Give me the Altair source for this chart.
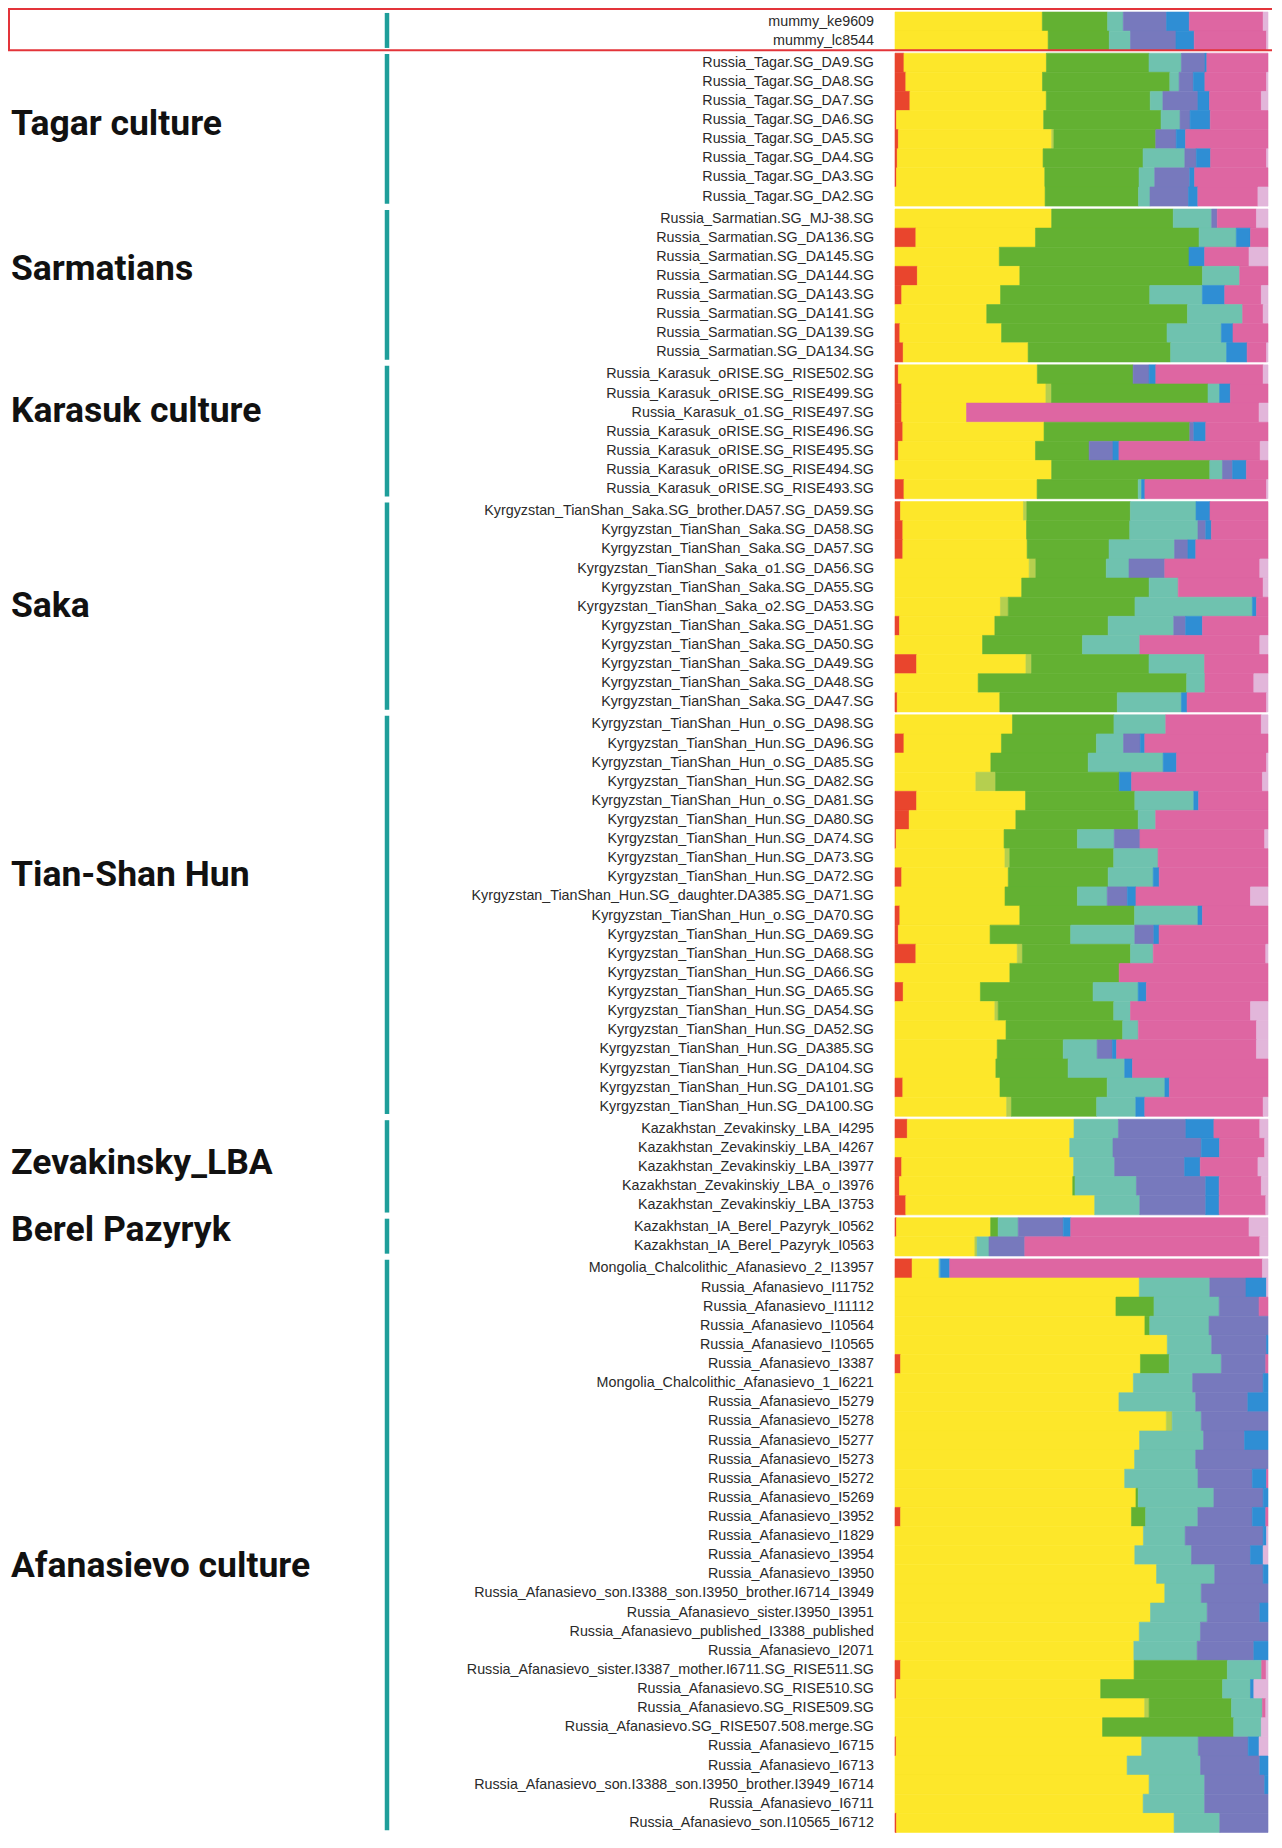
import altair as alt
import pandas as pd

# ---------------- data ----------------
COMPONENTS = ["K1", "K2", "K3", "K4", "K5", "K6", "K7", "K8", "K9"]
COLORS = ["#E9452D", "#FDE72A", "#B5CF4F", "#63B132", "#6FC2AF",
          "#7779BD", "#2F8ED4", "#DE66A2", "#E2B6DA"]

MUMMY_NAMES = ["mummy_ke9609", "mummy_lc8544"]
MUMMY_Q = [
    [0, .395, 0, .175, .042, .116, .061, .198, .013],
    [0, .411, 0, .164, .057, .122, .049, .194, .004],
]

TAGAR_NAMES = ["Russia_Tagar.SG_DA9.SG", "Russia_Tagar.SG_DA8.SG", "Russia_Tagar.SG_DA7.SG",
               "Russia_Tagar.SG_DA6.SG", "Russia_Tagar.SG_DA5.SG", "Russia_Tagar.SG_DA4.SG",
               "Russia_Tagar.SG_DA3.SG", "Russia_Tagar.SG_DA2.SG"]
TAGAR_Q = [
    [.024, .382, 0, .275, .087, .063, .005, .164, 0],
    [.029, .366, 0, .341, .025, .038, .031, .165, .004],
    [.040, .366, 0, .279, .034, .094, .031, .139, .018],
    [.004, .395, 0, .315, .051, .027, .054, .155, 0],
    [.009, .411, .006, .273, 0, .055, .025, .221, 0],
    [.006, .391, 0, .268, .112, .031, .038, .150, .004],
    [.004, .398, 0, .253, .042, .094, .013, .197, 0],
    [0, .402, 0, .250, .031, .103, .025, .161, .027],
]

SARMATIAN_NAMES = ["Russia_Sarmatian.SG_MJ-38.SG", "Russia_Sarmatian.SG_DA136.SG",
                   "Russia_Sarmatian.SG_DA145.SG", "Russia_Sarmatian.SG_DA144.SG",
                   "Russia_Sarmatian.SG_DA143.SG", "Russia_Sarmatian.SG_DA141.SG",
                   "Russia_Sarmatian.SG_DA139.SG", "Russia_Sarmatian.SG_DA134.SG"]
SARMATIAN_Q = [
    [0, .420, 0, .326, .103, .015, 0, .105, .031],
    [.056, .321, 0, .439, .100, 0, .038, .047, 0],
    [0, .280, 0, .509, 0, 0, .042, .119, .051],
    [.060, .275, 0, .490, .100, 0, 0, .076, 0],
    [.018, .265, 0, .400, .141, 0, .060, .098, .018],
    [0, .246, 0, .538, .148, 0, 0, .055, .013],
    [.013, .273, 0, .444, .146, 0, .031, .094, 0],
    [.022, .335, 0, .382, .150, 0, .055, .052, .004],
]

KARASUK_NAMES = ["Russia_Karasuk_oRISE.SG_RISE502.SG", "Russia_Karasuk_oRISE.SG_RISE499.SG",
                 "Russia_Karasuk_o1.SG_RISE497.SG", "Russia_Karasuk_oRISE.SG_RISE496.SG",
                 "Russia_Karasuk_oRISE.SG_RISE495.SG", "Russia_Karasuk_oRISE.SG_RISE494.SG",
                 "Russia_Karasuk_oRISE.SG_RISE493.SG"]
KARASUK_Q = [
    [.009, .373, 0, .257, 0, .043, .018, .288, .013],
    [.018, .387, .015, .420, .031, 0, .029, .101, 0],
    [.018, .174, 0, 0, 0, 0, 0, .785, .024],
    [.021, .379, 0, .391, 0, .011, .032, .167, 0],
    [.009, .368, 0, .144, 0, .064, .016, .379, .021],
    [0, .420, 0, .424, .034, .027, .037, .058, 0],
    [.024, .357, 0, .271, .009, 0, .009, .326, .004],
]

SAKA_NAMES = ["Kyrgyzstan_TianShan_Saka.SG_brother.DA57.SG_DA59.SG",
              "Kyrgyzstan_TianShan_Saka.SG_DA58.SG", "Kyrgyzstan_TianShan_Saka.SG_DA57.SG",
              "Kyrgyzstan_TianShan_Saka_o1.SG_DA56.SG", "Kyrgyzstan_TianShan_Saka.SG_DA55.SG",
              "Kyrgyzstan_TianShan_Saka_o2.SG_DA53.SG", "Kyrgyzstan_TianShan_Saka.SG_DA51.SG",
              "Kyrgyzstan_TianShan_Saka.SG_DA50.SG", "Kyrgyzstan_TianShan_Saka.SG_DA49.SG",
              "Kyrgyzstan_TianShan_Saka.SG_DA48.SG", "Kyrgyzstan_TianShan_Saka.SG_DA47.SG"]
SAKA_Q = [
    [.015, .335, .009, .282, .179, 0, .038, .158, 0],
    [.021, .332, 0, .277, .183, .021, .015, .152, 0],
    [.021, .334, 0, .220, .176, .036, .021, .194, 0],
    [0, .360, .018, .189, .061, .096, 0, .255, .022],
    [0, .340, 0, .342, .078, 0, 0, .228, .013],
    [0, .283, .021, .340, .315, 0, .011, .031, 0],
    [.012, .256, 0, .304, .176, .032, .045, .176, 0],
    [0, .235, 0, .268, .154, 0, 0, .322, .022],
    [.058, .293, .015, .315, .149, 0, 0, .170, 0],
    [0, .223, 0, .559, .049, 0, 0, .131, .038],
    [.006, .275, 0, .315, .172, 0, .015, .213, .004],
]

HUN_NAMES = ["Kyrgyzstan_TianShan_Hun_o.SG_DA98.SG", "Kyrgyzstan_TianShan_Hun.SG_DA96.SG",
             "Kyrgyzstan_TianShan_Hun_o.SG_DA85.SG", "Kyrgyzstan_TianShan_Hun.SG_DA82.SG",
             "Kyrgyzstan_TianShan_Hun_o.SG_DA81.SG", "Kyrgyzstan_TianShan_Hun.SG_DA80.SG",
             "Kyrgyzstan_TianShan_Hun.SG_DA74.SG", "Kyrgyzstan_TianShan_Hun.SG_DA73.SG",
             "Kyrgyzstan_TianShan_Hun.SG_DA72.SG",
             "Kyrgyzstan_TianShan_Hun.SG_daughter.DA385.SG_DA71.SG",
             "Kyrgyzstan_TianShan_Hun_o.SG_DA70.SG", "Kyrgyzstan_TianShan_Hun.SG_DA69.SG",
             "Kyrgyzstan_TianShan_Hun.SG_DA68.SG", "Kyrgyzstan_TianShan_Hun.SG_DA66.SG",
             "Kyrgyzstan_TianShan_Hun.SG_DA65.SG", "Kyrgyzstan_TianShan_Hun.SG_DA54.SG",
             "Kyrgyzstan_TianShan_Hun.SG_DA52.SG", "Kyrgyzstan_TianShan_Hun.SG_DA385.SG",
             "Kyrgyzstan_TianShan_Hun.SG_DA104.SG", "Kyrgyzstan_TianShan_Hun.SG_DA101.SG",
             "Kyrgyzstan_TianShan_Hun.SG_DA100.SG"]
HUN_Q = [
    [0, .315, 0, .272, .139, 0, 0, .256, .018],
    [.024, .262, 0, .255, .073, .045, .012, .331, 0],
    [0, .257, 0, .261, .201, 0, .036, .241, .004],
    [0, .217, .053, .332, 0, 0, .033, .351, .015],
    [.058, .292, 0, .293, .158, 0, .013, .186, 0],
    [.038, .286, 0, .328, .047, 0, 0, .301, 0],
    [.003, .290, 0, .197, .099, .069, 0, .335, .009],
    [0, .295, .013, .279, .119, 0, 0, .295, 0],
    [.018, .286, 0, .268, .121, 0, .016, .292, 0],
    [0, .295, 0, .194, .080, .054, .023, .307, .047],
    [.013, .322, 0, .308, .170, 0, .012, .176, 0],
    [.009, .246, 0, .216, .172, .051, .014, .292, 0],
    [.056, .272, .014, .290, .061, 0, 0, .302, .006],
    [0, .308, 0, .293, 0, 0, 0, .399, 0],
    [.022, .207, 0, .302, .121, 0, .022, .326, 0],
    [0, .268, .009, .310, .045, 0, 0, .322, .047],
    [0, .298, 0, .313, .042, 0, 0, .317, .031],
    [0, .274, 0, .177, .091, .041, .011, .375, .031],
    [0, .271, 0, .194, .152, 0, .021, .364, 0],
    [.021, .261, 0, .288, .155, 0, .012, .265, 0],
    [0, .299, .013, .228, .105, 0, .024, .317, .013],
]

ZEV_NAMES = ["Kazakhstan_Zevakinsky_LBA_I4295", "Kazakhstan_Zevakinskiy_LBA_I4267",
             "Kazakhstan_Zevakinskiy_LBA_I3977", "Kazakhstan_Zevakinskiy_LBA_o_I3976",
             "Kazakhstan_Zevakinskiy_LBA_I3753"]
ZEV_Q = [
    [.033, .447, 0, 0, .119, .181, .075, .123, .022],
    [0, .469, 0, 0, .116, .237, .049, .121, .009],
    [.018, .462, 0, 0, .110, .188, .042, .155, .027],
    [.012, .465, 0, .006, .165, .186, .036, .113, .018],
    [.029, .507, 0, 0, .121, .177, .036, .125, .006],
]

BEREL_NAMES = ["Kazakhstan_IA_Berel_Pazyryk_I0562", "Kazakhstan_IA_Berel_Pazyryk_I0563"]
BEREL_Q = [
    [.004, .253, 0, .020, .054, .121, .020, .479, .051],
    [0, .214, .006, 0, .032, .096, 0, .630, .022],
]

AFAN_NAMES = ["Mongolia_Chalcolithic_Afanasievo_2_I13957", "Russia_Afanasievo_I11752",
              "Russia_Afanasievo_I11112", "Russia_Afanasievo_I10564", "Russia_Afanasievo_I10565",
              "Russia_Afanasievo_I3387", "Mongolia_Chalcolithic_Afanasievo_1_I6221",
              "Russia_Afanasievo_I5279", "Russia_Afanasievo_I5278", "Russia_Afanasievo_I5277",
              "Russia_Afanasievo_I5273", "Russia_Afanasievo_I5272", "Russia_Afanasievo_I5269",
              "Russia_Afanasievo_I3952", "Russia_Afanasievo_I1829", "Russia_Afanasievo_I3954",
              "Russia_Afanasievo_I3950",
              "Russia_Afanasievo_son.I3388_son.I3950_brother.I6714_I3949",
              "Russia_Afanasievo_sister.I3950_I3951",
              "Russia_Afanasievo_published_I3388_published", "Russia_Afanasievo_I2071",
              "Russia_Afanasievo_sister.I3387_mother.I6711.SG_RISE511.SG",
              "Russia_Afanasievo.SG_RISE510.SG", "Russia_Afanasievo.SG_RISE509.SG",
              "Russia_Afanasievo.SG_RISE507.508.merge.SG", "Russia_Afanasievo_I6715",
              "Russia_Afanasievo_I6713",
              "Russia_Afanasievo_son.I3388_son.I3950_brother.I3949_I6714",
              "Russia_Afanasievo_I6711", "Russia_Afanasievo_son.I10565_I6712"]
AFAN_Q = [
    [.046, .072, 0, 0, .004, 0, .025, .840, .015],
    [0, .655, 0, 0, .189, .097, .055, 0, .004],
    [0, .593, 0, .102, .175, .107, 0, .024, 0],
    [0, .670, 0, .013, .159, .158, 0, 0, 0],
    [0, .730, 0, 0, .119, .147, .004, 0, 0],
    [.015, .643, 0, .077, .140, .119, 0, .006, 0],
    [0, .639, 0, 0, .159, .189, .013, 0, 0],
    [0, .601, 0, 0, .206, .140, .054, 0, 0],
    [0, .728, .016, 0, .078, .179, 0, 0, 0],
    [0, .657, 0, 0, .172, .110, .063, 0, 0],
    [0, .643, 0, 0, .164, .194, 0, 0, 0],
    [0, .617, 0, 0, .197, .146, .038, .004, 0],
    [0, .646, 0, .006, .203, .132, .013, 0, 0],
    [.015, .619, 0, .038, .140, .146, .036, .006, 0],
    [0, .666, 0, 0, .112, .209, .009, 0, .004],
    [0, .643, 0, 0, .152, .158, .034, 0, .013],
    [0, .702, 0, 0, .156, .130, .013, 0, 0],
    [0, .724, 0, 0, .098, .179, 0, 0, 0],
    [0, .685, 0, 0, .152, .141, .022, 0, 0],
    [0, .655, 0, 0, .164, .181, 0, 0, 0],
    [0, .641, 0, 0, .170, .152, .038, 0, 0],
    [.015, .626, 0, .250, .092, 0, 0, .012, .005],
    [.003, .549, 0, .327, .075, 0, .009, 0, .038],
    [0, .670, .012, .221, .083, 0, 0, .009, .006],
    [0, .557, 0, .352, .074, 0, 0, 0, .018],
    [.003, .659, 0, 0, .152, .134, .029, 0, .024],
    [0, .623, 0, 0, .197, .159, .022, 0, 0],
    [0, .682, 0, 0, .149, .161, .009, 0, 0],
    [0, .666, 0, 0, .165, .170, 0, 0, 0],
    [.004, .748, 0, 0, .123, .130, 0, 0, 0],
]

GROUPS = [
    ("", MUMMY_NAMES, MUMMY_Q),
    ("Tagar culture", TAGAR_NAMES, TAGAR_Q),
    ("Sarmatians", SARMATIAN_NAMES, SARMATIAN_Q),
    ("Karasuk culture", KARASUK_NAMES, KARASUK_Q),
    ("Saka", SAKA_NAMES, SAKA_Q),
    ("Tian-Shan Hun", HUN_NAMES, HUN_Q),
    ("Zevakinsky_LBA", ZEV_NAMES, ZEV_Q),
    ("Berel Pazyryk", BEREL_NAMES, BEREL_Q),
    ("Afanasievo culture", AFAN_NAMES, AFAN_Q),
]

# ---------------- layout (not data) ----------------
ROW_PX = 19.12
GAP = 2.9 / ROW_PX                                       # gap between groups, in row units
TITLE_POS = [0, 3.72, 3.12, 2.39, 5.45, 8.36, 2.29, 0.62, 16.05]  # title centre, rows from group top
BAR_W = 373
H = 1822                                                 # visible plot height (last row is cut)

bar_rows, lab_rows, grp_rows = [], [], []
idx = 0
for g, (title, names, qs) in enumerate(GROUPS):
    g_top = idx + g * GAP
    for name, q in zip(names, qs):
        top = idx + g * GAP
        s = float(sum(q))
        cum = 0.0
        for comp, v in zip(COMPONENTS, q):
            if v <= 0:
                continue
            bar_rows.append(dict(name=name, comp=comp, x0=cum / s, x1=(cum + v) / s,
                                 top=top, bot=top + 1))
            cum += v
        lab_rows.append(dict(name=name, mid=top + 0.5))
        idx += 1
    g_bot = idx + g * GAP
    grp_rows.append(dict(title=title, top=g_top, bot=g_bot,
                         ltop=g_top + 0.05, lbot=g_bot - 0.12,
                         ty=g_top + TITLE_POS[g]))

DOMAIN_MAX = H / ROW_PX

bars_df = pd.DataFrame(bar_rows)
labs_df = pd.DataFrame(lab_rows)
grp_df = pd.DataFrame(grp_rows)
titles_df = grp_df[grp_df["title"] != ""]
box_df = pd.DataFrame([dict(btop=grp_rows[0]["top"] - 3.0 / ROW_PX, bbot=grp_rows[0]["bot"])])

xs = alt.Scale(domain=[0, 1], nice=False, zero=False)
ys = alt.Scale(domain=[0, DOMAIN_MAX], reverse=True, nice=False, zero=False)
cs = alt.Scale(domain=COMPONENTS, range=COLORS)

bars = alt.Chart(bars_df).mark_rect(strokeWidth=0.6).encode(
    x=alt.X("x0:Q", scale=xs, axis=None),
    x2="x1:Q",
    y=alt.Y("top:Q", scale=ys, axis=None),
    y2="bot:Q",
    color=alt.Color("comp:N", scale=cs, legend=None),
    stroke=alt.Stroke("comp:N", scale=cs, legend=None),
)

labels = alt.Chart(labs_df).mark_text(
    align="right", baseline="middle", font="Liberation Sans", fontSize=14.3, color="#2a2a2a"
).encode(
    x=alt.value(-21),
    y=alt.Y("mid:Q", scale=ys, axis=None),
    text="name:N",
)

titles = alt.Chart(titles_df).mark_text(
    align="left", baseline="middle", font="Roboto", fontWeight="bold", fontSize=35.5, color="#111111"
).encode(
    x=alt.value(-884),
    y=alt.Y("ty:Q", scale=ys, axis=None),
    text="title:N",
)

lines = alt.Chart(grp_df).mark_rule(strokeWidth=4.5, color="#1E9E9A").encode(
    x=alt.value(-508),
    y=alt.Y("ltop:Q", scale=ys, axis=None),
    y2="lbot:Q",
)

box = alt.Chart(box_df).mark_rect(filled=False, stroke="#E3343A", strokeWidth=2).encode(
    x=alt.value(-886),
    x2=alt.value(420),
    y=alt.Y("btop:Q", scale=ys, axis=None),
    y2="bbot:Q",
)

chart = alt.layer(bars, lines, labels, titles, box).properties(
    width=BAR_W,
    height=H,
    padding={"left": 887, "top": 4, "right": 4, "bottom": 0},
    autosize=alt.AutoSizeParams(type="none"),
    background="white",
).configure_view(stroke=None)

chart.save("out.html", embed_options={"renderer": "svg", "actions": False})
